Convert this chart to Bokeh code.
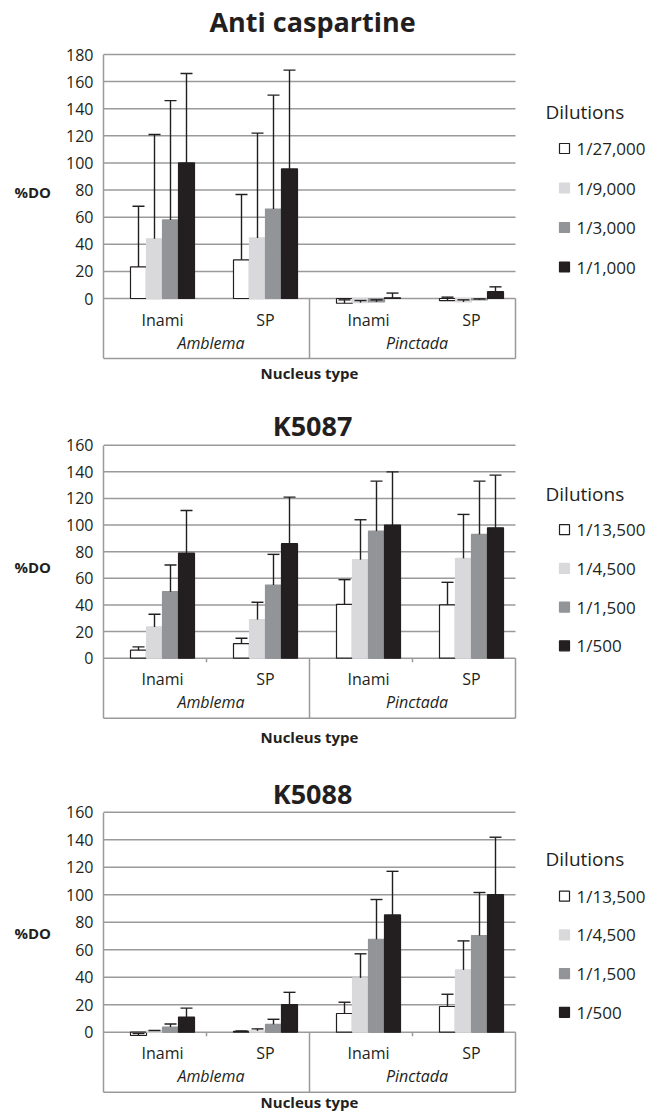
from bokeh.plotting import figure
from bokeh.layouts import column
from bokeh.models import ColumnDataSource, Whisker, TeeHead, FixedTicker
from bokeh.core.properties import value
from bokeh.embed import file_html
from bokeh.resources import INLINE

# ---------------- data ----------------
nucleus = ["Inami", "SP", "Inami", "SP"]
species = ["Amblema", "Pinctada"]
y_title = "%DO"
x_title = "Nucleus type"
legend_title = "Dilutions"

# Anti caspartine
anti_title = "Anti caspartine"
anti_dilutions = ["1/27,000", "1/9,000", "1/3,000", "1/1,000"]
anti_ticks = [0, 20, 40, 60, 80, 100, 120, 140, 160, 180]
anti_mean_27000 = [23.3, 28.5, -3.5, -1.5]
anti_sd_27000 = [44.7, 48.2, 2.5, 2.5]
anti_mean_9000 = [44.0, 44.7, -3.0, -2.5]
anti_sd_9000 = [77.0, 77.3, 1.5, 1.5]
anti_mean_3000 = [58.0, 66.0, -2.5, -1.0]
anti_sd_3000 = [88.0, 84.0, 1.5, 0.7]
anti_mean_1000 = [100.0, 95.6, 0.5, 5.0]
anti_sd_1000 = [66.0, 72.9, 3.5, 3.6]

# K5087
k87_title = "K5087"
k87_dilutions = ["1/13,500", "1/4,500", "1/1,500", "1/500"]
k87_ticks = [0, 20, 40, 60, 80, 100, 120, 140, 160]
k87_mean_13500 = [6.0, 11.0, 40.5, 40.0]
k87_sd_13500 = [2.5, 4.0, 18.5, 17.0]
k87_mean_4500 = [23.5, 29.0, 74.0, 75.0]
k87_sd_4500 = [9.5, 13.0, 30.0, 33.0]
k87_mean_1500 = [50.0, 55.0, 95.5, 93.0]
k87_sd_1500 = [20.0, 23.0, 37.5, 40.0]
k87_mean_500 = [79.0, 86.0, 100.0, 98.0]
k87_sd_500 = [32.0, 35.0, 40.0, 39.5]

# K5088
k88_title = "K5088"
k88_dilutions = ["1/13,500", "1/4,500", "1/1,500", "1/500"]
k88_ticks = [0, 20, 40, 60, 80, 100, 120, 140, 160]
k88_mean_13500 = [-2.4, 0.7, 13.6, 18.7]
k88_sd_13500 = [1.4, 0.3, 8.2, 8.9]
k88_mean_4500 = [1.0, 1.0, 39.5, 45.3]
k88_sd_4500 = [0.2, 1.4, 17.5, 21.1]
k88_mean_1500 = [3.7, 5.7, 67.6, 70.3]
k88_sd_1500 = [2.3, 3.7, 28.9, 31.3]
k88_mean_500 = [11.0, 20.0, 85.3, 100.0]
k88_sd_500 = [6.5, 9.0, 31.7, 41.8]

# ---------------- styles / layout ----------------
FONT = "Open Sans"
TXT = "#231f20"
GRID = "#9a9a9a"
FILL = ["#ffffff", "#d9d9db", "#929497", "#231f20"]
LINE = ["#231f20", "#d9d9db", "#929497", "#231f20"]

W = 649
FRAME_LEFT = 103
CELL_PX = 103.0
X_END = (W - FRAME_LEFT) / CELL_PX
BAR_W = 16.0 / CELL_PX
SHIFT = 7.5 / CELL_PX
GROUP_SHIFT = 4.5 / CELL_PX


def px_x(page_px):
    return (page_px - FRAME_LEFT) / CELL_PX


LAYOUTS = [
    dict(h=382, zero=298.0, ppu=244.0 / 180, title_up=277, dil_up=187,
         leg_up=150, pitch=39.5, xlab_down=74, sub_ticks=False),
    dict(h=368, zero=275.7, ppu=213.0 / 160, title_up=232.5, dil_up=164.5,
         leg_up=128.5, pitch=38.7, xlab_down=79, sub_ticks=True),
    dict(h=364, zero=281.7, ppu=220.0 / 160, title_up=238.7, dil_up=173.7,
         leg_up=136, pitch=38.7, xlab_down=70, sub_ticks=True),
]


def make_chart(title, dilutions, ticks, means, sds, L):
    k = L["ppu"]

    def up(px):
        return px / k

    n = len(nucleus)
    y_start = -(L["h"] - L["zero"]) / k
    y_end = L["zero"] / k
    box_bottom = -up(60)

    p = figure(width=W, height=L["h"], x_range=(0, X_END), y_range=(y_start, y_end),
               x_axis_type=None, tools="", toolbar_location=None, output_backend="svg",
               min_border_left=FRAME_LEFT, min_border_right=0, min_border_top=0,
               min_border_bottom=0, outline_line_color=None)
    p.grid.visible = False

    ax = p.yaxis[0]
    ax.ticker = FixedTicker(ticks=ticks)
    ax.bounds = (box_bottom, ticks[-1])
    ax.axis_line_color = GRID
    ax.axis_line_width = 1.5
    ax.major_tick_out = 0
    ax.major_tick_in = 0
    ax.minor_tick_out = 0
    ax.minor_tick_in = 0
    ax.major_label_standoff = 10
    ax.major_label_text_font = FONT
    ax.major_label_text_font_size = "16px"
    ax.major_label_text_color = TXT
    ax.axis_label = y_title
    ax.axis_label_orientation = "horizontal"
    ax.axis_label_standoff = 12
    ax.axis_label_text_font = FONT
    ax.axis_label_text_font_size = "15px"
    ax.axis_label_text_font_style = "bold"
    ax.axis_label_text_color = TXT

    # gridlines
    p.segment(x0=[0] * len(ticks), x1=[n] * len(ticks), y0=ticks, y1=ticks,
              line_color=GRID, line_width=1.5)
    # category box
    p.segment(x0=[0, n / 2, n], x1=[n, n / 2, n], y0=[box_bottom, 0, 0],
              y1=[box_bottom, box_bottom, box_bottom], line_color=GRID, line_width=1.5)
    if L["sub_ticks"]:
        p.segment(x0=[1, 3], x1=[1, 3], y0=[0, 0], y1=[-up(4), -up(4)],
                  line_color=GRID, line_width=1.5)

    # bars + error bars
    for j, (m, s) in enumerate(zip(means, sds)):
        xs = [i + 0.5 + SHIFT + (j - 1.5) * BAR_W for i in range(n)]
        src = ColumnDataSource(dict(x=xs, top=m, upper=[a + b for a, b in zip(m, s)]))
        p.vbar(x="x", top="top", bottom=0, width=BAR_W, source=src,
               fill_color=FILL[j], line_color=LINE[j], line_width=1.2)
        w = Whisker(source=src, base="x", lower="top", upper="upper", dimension="height",
                    line_color=TXT, line_width=1.4, level="overlay",
                    upper_head=TeeHead(size=12, line_color=TXT, line_width=1.4),
                    lower_head=None)
        p.add_layout(w)

    # category labels
    p.text(x=[i + 0.5 + SHIFT for i in range(n)], y=[-up(21)] * n, text=nucleus,
           text_font=value(FONT), text_font_size="16px", text_color=TXT,
           text_align="center", text_baseline="middle")
    p.text(x=[1 + GROUP_SHIFT, 3 + GROUP_SHIFT], y=[-up(44)] * 2, text=species,
           text_font=value(FONT), text_font_size="16px", text_font_style="italic",
           text_color=TXT, text_align="center", text_baseline="middle")

    # title and x axis title
    p.text(x=[2.03], y=[up(L["title_up"])], text=[title], text_font=value(FONT),
           text_font_size="27px", text_font_style="bold", text_color=TXT,
           text_align="center", text_baseline="middle")
    p.text(x=[2.0], y=[-up(L["xlab_down"])], text=[x_title], text_font=value(FONT),
           text_font_size="15px", text_font_style="bold", text_color=TXT,
           text_align="center", text_baseline="middle")

    # legend
    p.text(x=[px_x(545)], y=[up(L["dil_up"])], text=[legend_title], text_font=value(FONT),
           text_font_size="19px", text_color=TXT, text_align="left", text_baseline="middle")
    ly = [up(L["leg_up"] - i * L["pitch"]) for i in range(len(dilutions))]
    p.scatter(x=[px_x(564)] * len(dilutions), y=ly, marker="square", size=10,
              fill_color=FILL, line_color=LINE, line_width=1.2)
    p.text(x=[px_x(576)] * len(dilutions), y=ly, text=dilutions, text_font=value(FONT),
           text_font_size="17px", text_color=TXT, text_align="left", text_baseline="middle")
    return p


p1 = make_chart(anti_title, anti_dilutions, anti_ticks,
                [anti_mean_27000, anti_mean_9000, anti_mean_3000, anti_mean_1000],
                [anti_sd_27000, anti_sd_9000, anti_sd_3000, anti_sd_1000], LAYOUTS[0])
p2 = make_chart(k87_title, k87_dilutions, k87_ticks,
                [k87_mean_13500, k87_mean_4500, k87_mean_1500, k87_mean_500],
                [k87_sd_13500, k87_sd_4500, k87_sd_1500, k87_sd_500], LAYOUTS[1])
p3 = make_chart(k88_title, k88_dilutions, k88_ticks,
                [k88_mean_13500, k88_mean_4500, k88_mean_1500, k88_mean_500],
                [k88_sd_13500, k88_sd_4500, k88_sd_1500, k88_sd_500], LAYOUTS[2])

layout = column(p1, p2, p3, spacing=0)
open("out.html", "w").write(file_html(layout, INLINE))
